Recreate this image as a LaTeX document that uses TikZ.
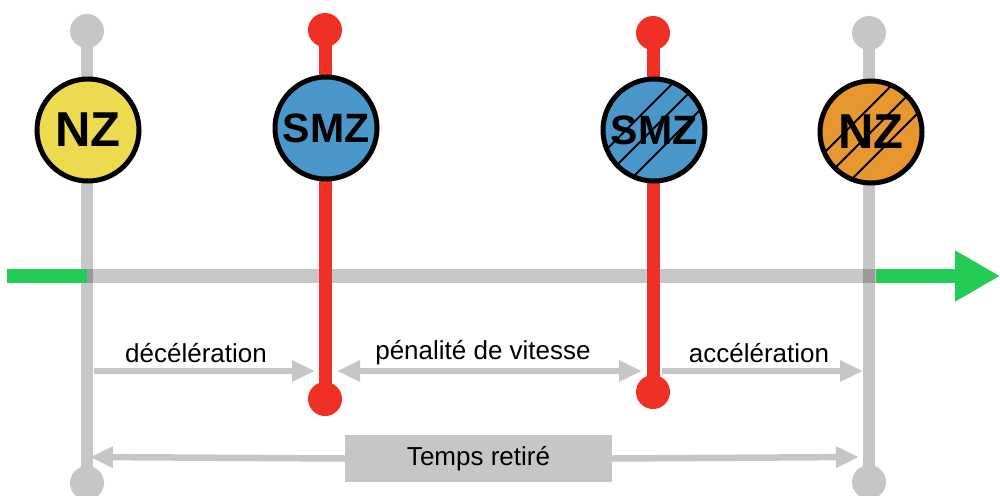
\documentclass[tikz,border=0pt]{standalone}
\usepackage{fontspec}
\setmainfont{Liberation Sans}
\usetikzlibrary{arrows.meta}
\definecolor{lgray}{HTML}{C6C6C6}
\definecolor{sred}{HTML}{EE3124}
\definecolor{sblue}{HTML}{4A98CB}
\definecolor{syellow}{HTML}{EDDA50}
\definecolor{sorange}{HTML}{E8962E}
\definecolor{sgreen}{HTML}{22CC55}
\begin{document}
\begin{tikzpicture}[x=1pt,y=-1pt,
  dotg/.style={circle,fill=lgray,inner sep=0pt,minimum size=34pt},
  dotr/.style={circle,fill=sred,inner sep=0pt,minimum size=34pt},
  gline/.style={draw=lgray,line width=12pt},
  rline/.style={draw=sred,line width=13pt},
  zone/.style={circle,draw=black,line width=5pt,inner sep=0pt,minimum size=102pt},
  nzfont/.style={font=\bfseries\fontsize{49}{49}\selectfont},
  smzfont/.style={font=\bfseries\fontsize{41}{41}\selectfont},
  hatch/.style={draw=black,line width=2pt},
  lbl/.style={font=\fontsize{26}{30}\selectfont,inner sep=0pt},
  garrow/.style={draw=lgray,line width=6.5pt,-{Triangle[length=23pt,width=20pt]}},
  gdarrow/.style={draw=lgray,line width=6.5pt,{Triangle[length=23pt,width=20pt]}-{Triangle[length=23pt,width=20pt]}}]
\useasboundingbox (0,0) rectangle (1000,495);

% gray vertical lines with dots
\node[dotg] (t1) at (87,31) {};
\node[dotg] (b1) at (87,483) {};
\node[dotg] (t4) at (869,33) {};
\node[dotg] (b4) at (869,482) {};
\draw[gline] (t1.center) -- (b1.center);
\draw[gline] (t4.center) -- (b4.center);

% horizontal time line
\coordinate (g0) at (7,276);
\coordinate (h1) at (87,276);
\coordinate (h2) at (876,276);
\coordinate (gend) at (1000,276);
\draw[draw=black,opacity=0.22,line width=14pt] (h1) -- (h2);
\draw[draw=sgreen,line width=14pt] (g0) -- (h1);
\draw[draw=sgreen,line width=14pt,-{Triangle[length=45pt,width=48pt]}] (h2) -- (gend);

% red vertical lines with dots
\node[dotr] (t2) at (325,30) {};
\node[dotr] (b2) at (325,399) {};
\node[dotr] (t3) at (653,33) {};
\node[dotr] (b3) at (653,392) {};
\draw[rline] (t2.center) -- (b2.center);
\draw[rline] (t3.center) -- (b3.center);

% zone circles
\node[zone,fill=syellow,nzfont] (c1) at (88,130) {NZ};
\node[zone,fill=sblue,smzfont] (c2) at (326,128) {SMZ};
\node[zone,fill=sblue,smzfont] (c3) at (654,130) {SMZ};
\node[zone,fill=sorange,nzfont] (c4) at (871,132) {NZ};

\begin{scope}
  \clip (c3.center) circle (51pt);
  \begin{scope}[shift={(c3.center)}]
    \foreach \o in {-14,-1,13}
      \draw[hatch] (\o-70,\o+70) -- (\o+70,\o-70);
  \end{scope}
\end{scope}
\begin{scope}
  \clip (c4.center) circle (51pt);
  \begin{scope}[shift={(c4.center)}]
    \foreach \o in {-13,0,14}
      \draw[hatch] (\o-70,\o+70) -- (\o+70,\o-70);
  \end{scope}
\end{scope}

% interval arrows
\coordinate (a1s) at (94,371);
\coordinate (a1e) at (315,371);
\coordinate (a2s) at (337,371);
\coordinate (a2e) at (642,371);
\coordinate (a3s) at (662,371);
\coordinate (a3e) at (863,371);
\draw[garrow] (a1s) -- (a1e);
\draw[gdarrow] (a2s) -- (a2e);
\draw[garrow] (a3s) -- (a3e);
\node[lbl] (l1) at (196,353) {décélération};
\node[lbl] (l2) at (483,353) {pénalité de vitesse};
\node[lbl] (l3) at (759,353) {accélération};

% total
\node[lbl,fill=lgray,minimum width=267pt,minimum height=47pt] (tr) at (478.5,458.5) {Temps retiré};
\coordinate (r1) at (90,457);
\coordinate (r2) at (859,457);
\draw[garrow] (tr.west) -- (r1);
\draw[garrow] (tr.east) -- (r2);
\end{tikzpicture}
\end{document}
